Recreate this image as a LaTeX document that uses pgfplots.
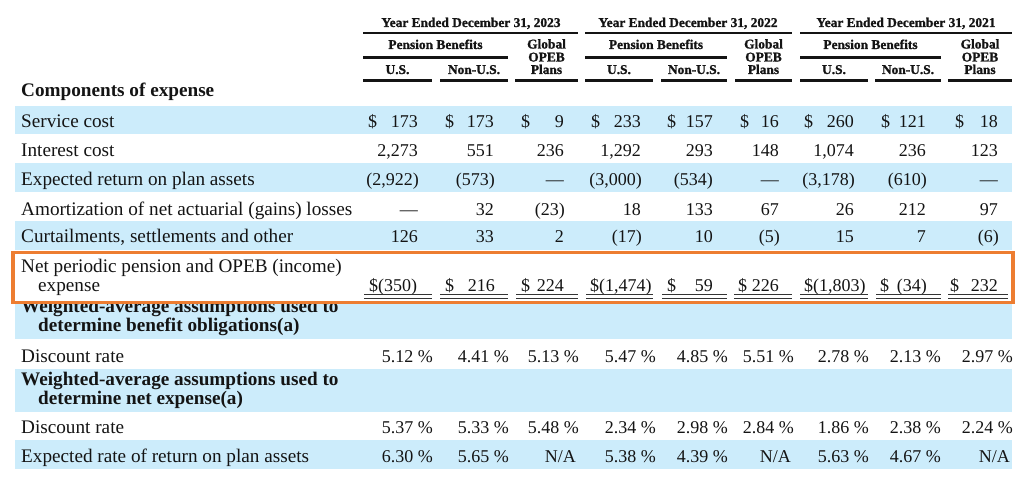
\documentclass[border=0pt]{standalone}
\usepackage{fontspec}
\setmainfont{Liberation Serif}
\newfontfamily\hfam{Liberation Serif}[BoldFeatures={FakeBold=1.2}]
\usepackage{pgfplots}
\pgfplotsset{compat=1.18}
\definecolor{band}{RGB}{204,236,251}
\definecolor{obox}{RGB}{237,125,49}
\definecolor{ink}{RGB}{20,20,20}
\newcommand\lf{\fontsize{19.2}{23}\selectfont}
\newcommand\nf{\fontsize{18}{22}\selectfont}
\newcommand\hf{\hfam\fontsize{13.4}{14}\selectfont\bfseries}
\newcommand\tlab[3]{\node[anchor=base west,font=\lf,text=ink,inner sep=0pt] at (axis cs:#1,#2) {#3};}
\newcommand\tblab[3]{\node[anchor=base west,font=\lf\bfseries,text=ink,inner sep=0pt] at (axis cs:#1,#2) {#3};}
\newcommand\tnum[3]{\node[anchor=base east,font=\nf,text=ink,inner sep=0pt] at (axis cs:#1,#2) {#3};}
\newcommand\tdol[3]{\node[anchor=base west,font=\nf,text=ink,inner sep=0pt] at (axis cs:#1,#2) {#3};}
\newcommand\thdr[3]{\node[anchor=base,font=\hf,text=ink,inner sep=0pt] at (axis cs:#1,#2) {#3};}
\newcommand\hrl[3]{\addplot[draw=ink,line width=2.4pt] coordinates {(#1,#3) (#2,#3)};}
\newcommand\uline[3]{\addplot[draw=black!80,line width=1.7pt] coordinates {(#1,#3) (#2,#3)};}
\newcommand\bandrow[2]{\addplot[fill=band,draw=none] coordinates {(15,#1) (1012,#1) (1012,#2) (15,#2)};}
\begin{document}
\begin{tikzpicture}
\begin{axis}[width=1024pt,height=486pt,scale only axis,xmin=0,xmax=1024,ymin=0,ymax=486,
  y dir=reverse,hide axis,clip=false,no markers]
\addplot[fill=white,draw=none] coordinates {(0,0) (1024,0) (1024,486) (0,486)};
% bands
\bandrow{106}{134}
\bandrow{163}{192}
\bandrow{221}{250}
\bandrow{303}{339}
\bandrow{369}{412}
\bandrow{440}{469}
% weighted block 1 (top partly hidden)
\tblab{21}{312}{Weighted-average assumptions used to}
\addplot[fill=white,draw=none] coordinates {(0,251) (1024,251) (1024,303) (0,303)};
\addplot[draw=obox,line width=3.5pt,line cap=rect] coordinates {(13,252.5) (1013,252.5) (1013,302.5) (13,302.5) (13,252.5)};
\tblab{38}{331}{determine benefit obligations(a)}
% header
\thdr{471}{27}{Year Ended December 31, 2023}
\thdr{688}{27}{Year Ended December 31, 2022}
\thdr{906}{27}{Year Ended December 31, 2021}
\hrl{363}{578}{33}
\hrl{585}{792}{33}
\hrl{800}{1012}{33}
\thdr{435.5}{49}{Pension Benefits}
\thdr{656}{49}{Pension Benefits}
\thdr{870.5}{49}{Pension Benefits}
\hrl{363}{508}{57.5}
\hrl{585}{727}{57.5}
\hrl{800}{941}{57.5}
\thdr{546.5}{48.5}{Global}\thdr{546.5}{61.5}{OPEB}\thdr{546.5}{74}{Plans}
\thdr{763.5}{48.5}{Global}\thdr{763.5}{61.5}{OPEB}\thdr{763.5}{74}{Plans}
\thdr{980}{48.5}{Global}\thdr{980}{61.5}{OPEB}\thdr{980}{74}{Plans}
\thdr{397.5}{74}{U.S.}\thdr{474}{74}{Non-U.S.}
\thdr{619}{74}{U.S.}\thdr{694}{74}{Non-U.S.}
\thdr{834}{74}{U.S.}\thdr{908}{74}{Non-U.S.}
\hrl{363}{432}{80.5}\hrl{440}{508}{80.5}\hrl{515}{578}{80.5}
\hrl{585}{653}{80.5}\hrl{661}{727}{80.5}\hrl{735}{792}{80.5}
\hrl{800}{868}{80.5}\hrl{875}{941}{80.5}\hrl{948}{1012}{80.5}
% row labels
\tblab{21}{97}{Components of expense}
\tlab{21}{128}{Service cost}
\tlab{21}{157}{Interest cost}
\tlab{21}{186}{Expected return on plan assets}
\tlab{21}{215}{Amortization of net actuarial (gains) losses}
\tlab{21}{243}{Curtailments, settlements and other}
\tlab{21}{272}{Net periodic pension and OPEB (income)}
\tlab{38}{291}{expense}
\tlab{21}{362}{Discount rate}
\tblab{21}{385}{Weighted-average assumptions used to}
\tblab{38}{404}{determine net expense(a)}
\tlab{21}{433}{Discount rate}
\tlab{21}{462}{Expected rate of return on plan assets}
% Service cost
\tdol{368}{128}{\$}\tnum{418}{128}{173}
\tdol{445}{128}{\$}\tnum{494}{128}{173}
\tdol{521}{128}{\$}\tnum{564}{128}{9}
\tdol{591}{128}{\$}\tnum{641}{128}{233}
\tdol{667}{128}{\$}\tnum{713}{128}{157}
\tdol{740}{128}{\$}\tnum{779}{128}{16}
\tdol{804}{128}{\$}\tnum{854}{128}{260}
\tdol{881}{128}{\$}\tnum{926}{128}{121}
\tdol{955}{128}{\$}\tnum{998}{128}{18}
% Interest cost
\tnum{418}{157}{2,273}\tnum{494}{157}{551}\tnum{564}{157}{236}
\tnum{641}{157}{1,292}\tnum{713}{157}{293}\tnum{779}{157}{148}
\tnum{854}{157}{1,074}\tnum{926}{157}{236}\tnum{998}{157}{123}
% Expected return
\tnum{419}{186}{(2,922)}\tnum{495}{186}{(573)}\tnum{564}{186}{—}
\tnum{642}{186}{(3,000)}\tnum{713}{186}{(534)}\tnum{779}{186}{—}
\tnum{855}{186}{(3,178)}\tnum{927}{186}{(610)}\tnum{998}{186}{—}
% Amortization
\tnum{418}{215}{—}\tnum{494}{215}{32}\tnum{565}{215}{(23)}
\tnum{641}{215}{18}\tnum{713}{215}{133}\tnum{779}{215}{67}
\tnum{854}{215}{26}\tnum{926}{215}{212}\tnum{998}{215}{97}
% Curtailments
\tnum{418}{243}{126}\tnum{494}{243}{33}\tnum{564}{243}{2}
\tnum{642}{243}{(17)}\tnum{713}{243}{10}\tnum{780}{243}{(5)}
\tnum{854}{243}{15}\tnum{926}{243}{7}\tnum{999}{243}{(6)}
% Net periodic
\tdol{369}{291}{\$(350)}
\tdol{445}{291}{\$}\tnum{495}{291}{216}
\tdol{521}{291}{\$}\tnum{564}{291}{224}
\tdol{590}{291}{\$(1,474)}
\tdol{667}{291}{\$}\tnum{713}{291}{59}
\tdol{738}{291}{\$}\tnum{779}{291}{226}
\tdol{804}{291}{\$(1,803)}
\tdol{880}{291}{\$}\tnum{927}{291}{(34)}
\tdol{950}{291}{\$}\tnum{998}{291}{232}
\uline{364}{432}{294.5}\uline{440}{508}{294.5}\uline{516}{578}{294.5}
\uline{586}{653}{294.5}\uline{662}{727}{294.5}\uline{734}{792}{294.5}
\uline{800}{868}{294.5}\uline{876}{941}{294.5}\uline{948}{1008}{294.5}
\uline{364}{432}{298.5}\uline{440}{508}{298.5}\uline{516}{578}{298.5}
\uline{586}{653}{298.5}\uline{662}{727}{298.5}\uline{734}{792}{298.5}
\uline{800}{868}{298.5}\uline{876}{941}{298.5}\uline{948}{1008}{298.5}
% Discount rate (benefit obligations)
\tnum{433}{362}{5.12 \%}\tnum{509}{362}{4.41 \%}\tnum{579}{362}{5.13 \%}
\tnum{656}{362}{5.47 \%}\tnum{728}{362}{4.85 \%}\tnum{794}{362}{5.51 \%}
\tnum{869}{362}{2.78 \%}\tnum{941}{362}{2.13 \%}\tnum{1013}{362}{2.97 \%}
% Discount rate (net expense)
\tnum{433}{433}{5.37 \%}\tnum{509}{433}{5.33 \%}\tnum{579}{433}{5.48 \%}
\tnum{656}{433}{2.34 \%}\tnum{728}{433}{2.98 \%}\tnum{794}{433}{2.84 \%}
\tnum{869}{433}{1.86 \%}\tnum{941}{433}{2.38 \%}\tnum{1013}{433}{2.24 \%}
% Expected rate of return
\tnum{433}{462}{6.30 \%}\tnum{509}{462}{5.65 \%}\tnum{576}{462}{N/A}
\tnum{656}{462}{5.38 \%}\tnum{728}{462}{4.39 \%}\tnum{791}{462}{N/A}
\tnum{869}{462}{5.63 \%}\tnum{941}{462}{4.67 \%}\tnum{1010}{462}{N/A}
\end{axis}
\end{tikzpicture}
\end{document}
